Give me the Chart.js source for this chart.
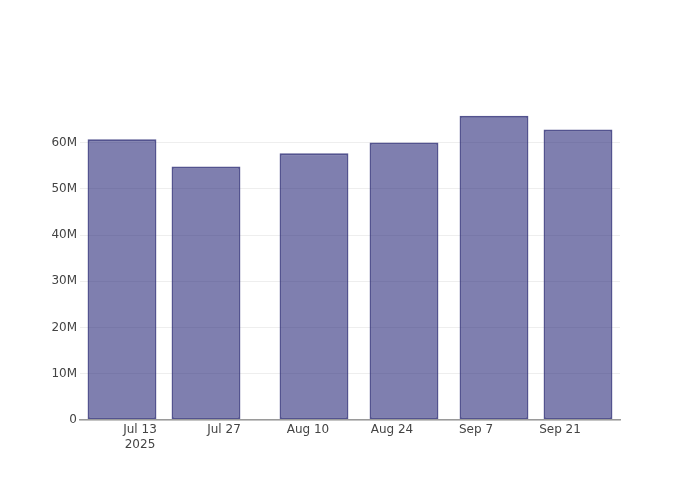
<!DOCTYPE html>
<html>
<head>
<meta charset="utf-8">
<script src="https://cdn.jsdelivr.net/npm/chart.js@4"></script>
<style>
  html, body { margin: 0; padding: 0; background: #fff; }
  #wrap { width: 700px; height: 500px; }
</style>
</head>
<body>
<div id="wrap"><canvas id="chart" width="700" height="500"></canvas></div>
<script>
// bar dates (2025) and values
const barDates = ["2025-07-10", "2025-07-24", "2025-08-11", "2025-08-26", "2025-09-10", "2025-09-24"];
const barValues = [60.7e6, 54.8e6, 57.7e6, 60.0e6, 65.8e6, 62.8e6];

// x tick labels
const tickDates = ["2025-07-13", "2025-07-27", "2025-08-10", "2025-08-24", "2025-09-07", "2025-09-21"];
const tickLabels = [["Jul 13", "2025"], "Jul 27", "Aug 10", "Aug 24", "Sep 7", "Sep 21"];

// y ticks
const yTicks = [0, 10e6, 20e6, 30e6, 40e6, 50e6, 60e6];
const yTickLabels = ["0", "10M", "20M", "30M", "40M", "50M", "60M"];

const xRange = ["2025-07-03", "2025-10-01"];
const yMax = 69.2e6;

/* day number from a date string */
const DAY = 86400000;
const origin = Date.UTC(2025, 6, 13);
function toDay(s) {
  const [y, m, d] = s.split("-").map(Number);
  return (Date.UTC(y, m - 1, d) - origin) / DAY;
}

const points = barDates.map((d, i) => ({ x: toDay(d), y: barValues[i] }));
const tickPos = tickDates.map(toDay);
const font = { family: "'DejaVu Sans', sans-serif", size: 12 };

new Chart(document.getElementById("chart"), {
  type: "bar",
  data: {
    datasets: [{
      data: points,
      backgroundColor: "rgba(42,42,122,0.6)",
      borderColor: "rgba(40,40,115,0.8)",
      borderWidth: 2,
      borderSkipped: false,
      barPercentage: 0.82,
      categoryPercentage: 1.0
    }]
  },
  options: {
    responsive: false,
    animation: false,
    layout: { padding: { left: 0, right: 80, top: 100, bottom: 0 } },
    plugins: {
      legend: { display: false },
      tooltip: { enabled: false }
    },
    scales: {
      x: {
        type: "linear",
        offset: false,
        min: toDay(xRange[0]),
        max: toDay(xRange[1]),
        afterBuildTicks: (scale) => {
          scale.ticks = tickPos.map(v => ({ value: v }));
        },
        afterFit: (scale) => { scale.height = 80; },
        ticks: {
          autoSkip: false,
          maxRotation: 0,
          padding: 3,
          color: "#444",
          font,
          callback: (v) => {
            const i = tickPos.indexOf(v);
            return i >= 0 ? tickLabels[i] : "";
          }
        },
        grid: { display: false, drawTicks: false, offset: false },
        border: { display: true, color: "#9a9a9a", width: 1.5, z: 1 }
      },
      y: {
        min: 0,
        max: yMax,
        afterBuildTicks: (scale) => {
          scale.ticks = yTicks.map(v => ({ value: v }));
        },
        afterFit: (scale) => { scale.width = 80; },
        ticks: {
          padding: 3,
          color: "#444",
          font,
          callback: (v) => {
            const i = yTicks.indexOf(v);
            return i >= 0 ? yTickLabels[i] : "";
          }
        },
        grid: { color: "#eeeeee", lineWidth: 1, drawTicks: false },
        border: { display: false }
      }
    }
  }
});
</script>
</body>
</html>
